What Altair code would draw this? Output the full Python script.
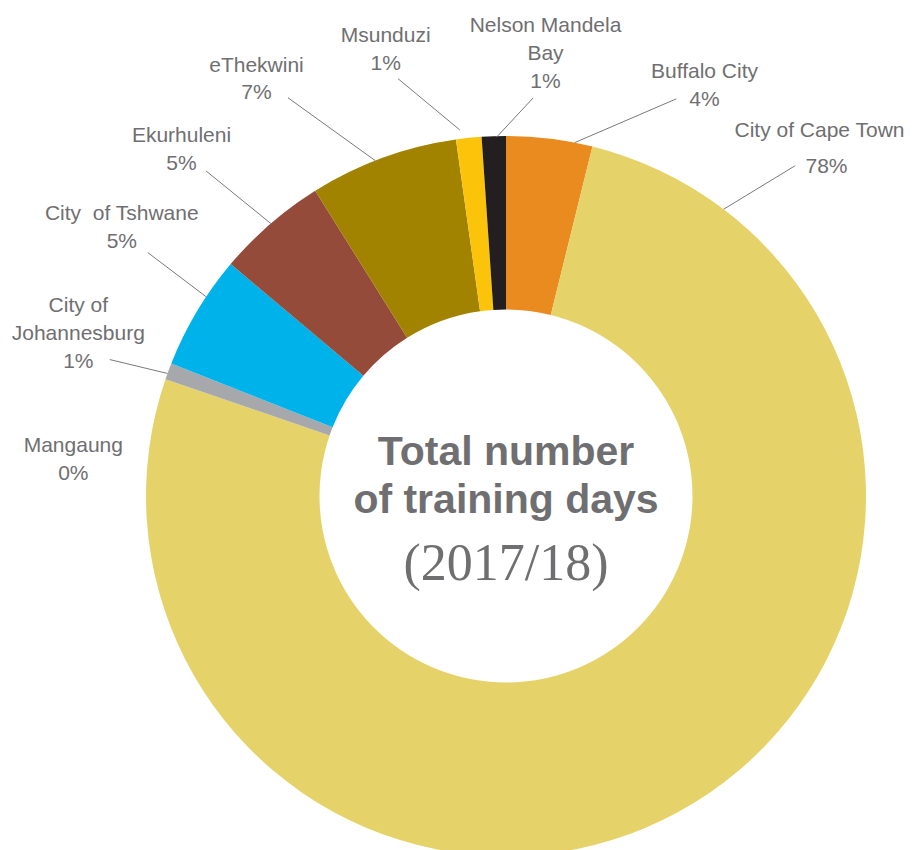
import math
import altair as alt
import pandas as pd

# ---------------- data ----------------
names = ["Buffalo City", "City of Cape Town", "Mangaung", "City of Johannesburg",
         "City of Tshwane", "Ekurhuleni", "eThekwini", "Msunduzi", "Nelson Mandela Bay"]
shares = [3.86, 76.4, 0.0, 0.74, 5.14, 4.97, 6.67, 1.14, 1.08]
pct_labels = ["4%", "78%", "0%", "1%", "5%", "5%", "7%", "1%", "1%"]
label_lines = [["Buffalo City"], ["City of Cape Town"], ["Mangaung"], ["City of", "Johannesburg"],
               ["City  of Tshwane"], ["Ekurhuleni"], ["eThekwini"], ["Msunduzi"],
               ["Nelson Mandela", "Bay"]]
colors = ["#E98B1F", "#E5D36A", "#7F7F7F", "#A7A8AC", "#00B2EA", "#954B3A", "#A18300",
          "#FCC30B", "#231F20"]
center_lines = ["Total number", "of training days", "(2017/18)"]

# ---------------- layout ----------------
W, H = 899, 842
CX, CY = 498, 488          # donut centre in plot pixels
R_OUT, R_IN = 360, 186.5
TEXT_COLOR = "#6F6F71"
# label block: first baseline offset from centre (dx, dy downward), line height,
# horizontal nudge of the first line (keeps it inside the page)
label_layout = [(198.5, -417.7, 28, 0), (320.5, -358.7, 36, -7), (-432.7, -43.7, 28, 0),
                (-427.7, -184.3, 28.3, 0), (-384.2, -276, 28.3, 0), (-324.5, -354.3, 28.3, 0),
                (-249.5, -424.3, 27.6, 0), (-120.3, -454.3, 28.3, 0), (39.5, -464.3, 28.3, 0)]
# leader: (start angle, start radius, end angle, end radius), angles clockwise from top
leader_layout = [(11.0, 360, 23.2, 432), (37.2, 360, 41.2, 439), None,
                 (-70.1, 360, -71.0, 419), (-56.4, 360, -55.8, 433),
                 (-40.8, 360, -42.7, 442.5), (-21.3, 360, -28.7, 454),
                 (-7.2, 369, -14.5, 431), (-1.5, 359, 3.9, 399)]
center_layout = [(31, "bold", 41, "Liberation Sans"), (-17, "bold", 41, "Liberation Sans"),
                 (-84, "normal", 52, "Liberation Serif")]


def polar(a, r):
    t = math.radians(a)
    return r * math.sin(t), r * math.cos(t)


xscale = alt.Scale(domain=[-CX, W - CX], range=[0, W], nice=False, zero=False)
yscale = alt.Scale(domain=[-(H - CY), CY], nice=False, zero=False)

slices = pd.DataFrame({"name": names, "value": shares, "order": list(range(len(names)))})

arcs = alt.Chart(slices).mark_arc(radius=R_OUT, radius2=R_IN, strokeWidth=0).encode(
    theta=alt.Theta("value:Q", stack=True),
    color=alt.Color("name:N", scale=alt.Scale(domain=names, range=colors), legend=None),
    order=alt.Order("order:Q"),
    x=alt.X(datum=0, type="quantitative", scale=xscale, axis=None),
    y=alt.Y(datum=0, type="quantitative", scale=yscale, axis=None),
)

rows = []
for name, lines, pct, (dx, dy, lh, nudge) in zip(names, label_lines, pct_labels, label_layout):
    for i, t in enumerate(lines + [pct]):
        rows.append({"x": dx + (nudge if i == 0 else 0), "y": -(dy + i * lh),
                     "text": t.replace("  ", " \u00a0")})
labels_df = pd.DataFrame(rows)

labels = alt.Chart(labels_df).mark_text(
    font="Liberation Sans", fontSize=21, color=TEXT_COLOR, align="center", baseline="alphabetic"
).encode(
    x=alt.X("x:Q", scale=xscale, axis=None),
    y=alt.Y("y:Q", scale=yscale, axis=None),
    text="text:N",
)

lrows = []
for name, ll in zip(names, leader_layout):
    if ll is None:
        continue
    x1, y1 = polar(ll[0], ll[1])
    x2, y2 = polar(ll[2], ll[3])
    lrows.append({"x": x1, "y": y1, "x2": x2, "y2": y2})
leaders = alt.Chart(pd.DataFrame(lrows)).mark_rule(color="#7A7A7A", strokeWidth=1).encode(
    x=alt.X("x:Q", scale=xscale, axis=None),
    y=alt.Y("y:Q", scale=yscale, axis=None),
    x2="x2:Q",
    y2="y2:Q",
)

center_layers = []
for t, (yy, fw, fs, ff) in zip(center_lines, center_layout):
    c = alt.Chart(pd.DataFrame({"x": [0], "y": [yy], "text": [t]})).mark_text(
        font=ff, fontWeight=fw, fontSize=fs, color=TEXT_COLOR, align="center",
        baseline="alphabetic"
    ).encode(
        x=alt.X("x:Q", scale=xscale, axis=None),
        y=alt.Y("y:Q", scale=yscale, axis=None),
        text="text:N",
    )
    center_layers.append(c)

chart = alt.layer(arcs, leaders, labels, *center_layers).properties(
    width=W, height=H, autosize=alt.AutoSizeParams(type="none"), padding=0
).configure_view(stroke=None)

chart.save("out.html", embed_options={"renderer": "svg", "actions": False})
